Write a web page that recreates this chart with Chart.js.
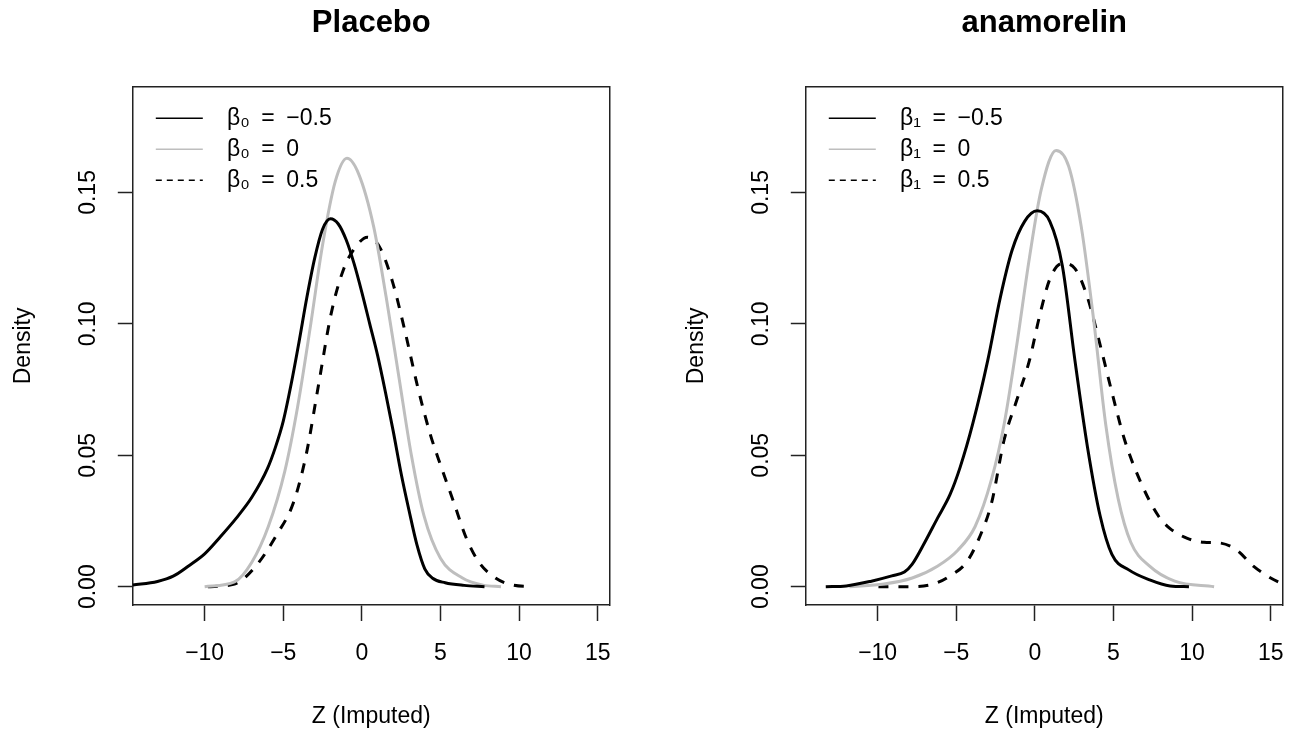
<!DOCTYPE html>
<html>
<head>
<meta charset="utf-8">
<script src="https://cdn.jsdelivr.net/npm/chart.js@4"></script>
<style>
  body { margin: 0; background: #fff; }
  #wrap { position: relative; width: 1303px; height: 737px; }
  canvas { position: absolute; top: 0; }
  #placebo { left: 0; }
  #anamorelin { left: 673px; }
</style>
</head>
<body>
<div id="wrap">
  <canvas id="placebo" width="630" height="737"></canvas>
  <canvas id="anamorelin" width="630" height="737"></canvas>
</div>
<script>
const xTicks = [-10, -5, 0, 5, 10, 15];
const xTickLabels = ['\u221210', '\u22125', '0', '5', '10', '15'];
const yTicks = [0, 0.05, 0.10, 0.15];
const yTickLabels = ['0.00', '0.05', '0.10', '0.15'];

const placeboLabels = ['\u03B2\u2080\u2002=\u2002\u22120.5', '\u03B2\u2080\u2002=\u20020', '\u03B2\u2080\u2002=\u20020.5'];
const anamorelinLabels = ['\u03B2\u2081\u2002=\u2002\u22120.5', '\u03B2\u2081\u2002=\u20020', '\u03B2\u2081\u2002=\u20020.5'];

// Placebo, beta0 = -0.5
const placeboXNeg = [-14.57, -13, -12, -11, -10, -9, -8, -7, -6, -5.5, -5, -4.5, -4, -3.5, -3, -2.5, -2, -1.5, -1, -0.5, 0, 0.5, 1, 1.5, 2, 2.5, 3, 3.5, 4, 4.5, 5.3, 6.5, 7.8];
const placeboYNeg = [0.0006, 0.002, 0.004, 0.008, 0.0125, 0.019, 0.026, 0.034, 0.045, 0.053, 0.063, 0.077, 0.093, 0.110, 0.125, 0.136, 0.140, 0.138, 0.132, 0.123, 0.112, 0.100, 0.088, 0.074, 0.059, 0.043, 0.029, 0.016, 0.0068, 0.0032, 0.0015, 0.0005, 0];
// Placebo, beta0 = 0
const placeboXZero = [-10.0, -8.1, -7.0, -5.95, -4.9, -4.1, -3.3, -2.5, -1.7, -0.95, -0.2, 0.75, 1.55, 2.35, 3.15, 3.95, 5.0, 6.4, 7.7, 8.85];
const placeboYZero = [0, 0.0018, 0.0093, 0.0229, 0.044, 0.068, 0.098, 0.130, 0.154, 0.163, 0.157, 0.137, 0.110, 0.080, 0.050, 0.027, 0.0108, 0.0033, 0.0006, 0];
// Placebo, beta0 = 0.5
const placeboXPos = [-9.8, -8.1, -6.75, -5.4, -4.35, -3.55, -2.75, -1.95, -1.15, -0.3, 0.35, 1.15, 1.95, 2.75, 3.55, 4.35, 5.05, 5.85, 6.65, 7.45, 8.5, 9.6, 10.9];
const placeboYPos = [0, 0.001, 0.0078, 0.0199, 0.032, 0.050, 0.077, 0.104, 0.121, 0.130, 0.133, 0.129, 0.116, 0.097, 0.076, 0.058, 0.0455, 0.032, 0.0184, 0.0093, 0.0033, 0.0006, 0];

// anamorelin, beta1 = -0.5
const anaXNeg = [-13.3, -12.0, -10.4, -9.1, -8.3, -7.8, -7.0, -6.2, -5.4, -4.75, -3.95, -3.0, -2.2, -1.45, -0.65, 0.15, 0.95, 1.75, 2.55, 3.35, 4.15, 4.9, 6.0, 7.3, 8.6, 9.8];
const anaYNeg = [0, 0.0003, 0.0021, 0.0041, 0.0056, 0.0086, 0.0169, 0.026, 0.035, 0.0455, 0.062, 0.086, 0.110, 0.128, 0.139, 0.143, 0.139, 0.122, 0.086, 0.053, 0.027, 0.0123, 0.0063, 0.0026, 0.0003, 0];
// anamorelin, beta1 = 0
const anaXZero = [-11.8, -9.6, -7.8, -6.2, -4.9, -3.8, -2.75, -1.95, -1.15, -0.35, 0.4, 1.35, 2.15, 2.95, 3.75, 4.5, 5.3, 6.1, 7.3, 8.9, 11.4];
const anaYZero = [0, 0.001, 0.0033, 0.0078, 0.0139, 0.0229, 0.041, 0.062, 0.092, 0.125, 0.151, 0.166, 0.160, 0.137, 0.101, 0.062, 0.0334, 0.0169, 0.0078, 0.0021, 0];
// anamorelin, beta1 = 0.5
const anaXPos = [-9.95, -8.0, -6.45, -5.4, -4.35, -3.55, -2.75, -1.95, -1.15, -0.35, 0.3, 0.95, 1.75, 2.55, 3.35, 4.15, 4.9, 5.7, 6.75, 7.85, 8.6, 9.7, 10.75, 11.8, 12.85, 13.9, 15.0, 15.8];
const anaYPos = [0, 0, 0.001, 0.0041, 0.0093, 0.0184, 0.032, 0.056, 0.071, 0.086, 0.103, 0.117, 0.123, 0.121, 0.110, 0.092, 0.074, 0.056, 0.0395, 0.027, 0.0221, 0.0184, 0.0169, 0.0166, 0.0139, 0.0078, 0.0033, 0.0009];

const FONT = 'Liberation Sans, Arial, Helvetica, sans-serif';
const INK = '#222';
const seriesStyle = [
  { color: '#000000', dash: [] },
  { color: '#bebebe', dash: [] },
  { color: '#000000', dash: [10, 10] }
];
const legendDash = [[], [], [6, 5]];

function pts(xs, ys) {
  return xs.map((x, i) => ({ x: x, y: ys[i] }));
}

// moves the legend into the top-left corner of the plot box
const legendPlace = {
  id: 'legendPlace',
  afterLayout(chart) {
    const lg = chart.legend;
    const area = chart.chartArea;
    lg.left = area.left + 15;
    lg.top = area.top + 12;
    lg.bottom = area.bottom;
    lg.right = area.right;
  }
};

function frameAxis(pos) {
  return {
    type: 'linear',
    position: pos,
    display: true,
    min: pos === 'top' ? -14.57 : -0.00697,
    max: pos === 'top' ? 15.77 : 0.1902,
    ticks: { display: false },
    grid: { display: false, drawTicks: false },
    border: { display: true, color: INK, width: 1.5 },
    afterFit: s => { if (pos === 'top') s.height = 0; else s.width = 0; }
  };
}

function makeChart(id, title, labels, series) {
  return new Chart(document.getElementById(id), {
    type: 'line',
    data: {
      datasets: series.map((s, i) => ({
        label: labels[i],
        data: s,
        borderColor: seriesStyle[i].color,
        backgroundColor: seriesStyle[i].color,
        borderDash: seriesStyle[i].dash,
        borderWidth: 3,
        pointRadius: 0,
        fill: false,
        cubicInterpolationMode: 'monotone'
      }))
    },
    options: {
      responsive: false,
      animation: false,
      events: [],
      layout: { padding: { left: 0, right: 19, top: 0, bottom: 0 } },
      plugins: {
        title: {
          display: true,
          text: title,
          fullSize: false,
          color: '#000',
          font: { family: FONT, size: 31, weight: 'bold' },
          padding: { top: 5, bottom: 44.6 }
        },
        legend: {
          position: 'chartArea',
          align: 'start',
          labels: {
            usePointStyle: true,
            pointStyle: 'line',
            pointStyleWidth: 47,
            padding: 8,
            color: '#000',
            font: { family: FONT, size: 23 },
            generateLabels: chart => Chart.defaults.plugins.legend.labels.generateLabels(chart).map(item => Object.assign(item, {
              text: '  ' + item.text,
              lineWidth: 1.5,
              lineDash: legendDash[item.datasetIndex]
            }))
          }
        },
        tooltip: { enabled: false }
      },
      scales: {
        x: {
          type: 'linear',
          position: 'bottom',
          min: -14.57,
          max: 15.77,
          afterBuildTicks: s => { s.ticks = xTicks.map(v => ({ value: v })); },
          afterFit: s => { s.height = 132; },
          grid: { display: true, drawOnChartArea: false, drawTicks: true, tickLength: 16, tickColor: INK, tickWidth: 1.5 },
          border: { display: true, color: INK, width: 1.5 },
          ticks: {
            autoSkip: false, maxRotation: 0, padding: 19, color: '#000',
            font: { family: FONT, size: 23 },
            callback: (v, i) => xTickLabels[i]
          },
          title: {
            display: true, text: 'Z (Imputed)', color: '#000',
            font: { family: FONT, size: 23 },
            padding: { top: 0, bottom: 7 }
          }
        },
        y: {
          type: 'linear',
          position: 'left',
          min: -0.00697,
          max: 0.1902,
          afterBuildTicks: s => { s.ticks = yTicks.map(v => ({ value: v })); },
          afterFit: s => { s.width = 132.8; },
          grid: { display: true, drawOnChartArea: false, drawTicks: true, tickLength: 15, tickColor: INK, tickWidth: 1.5 },
          border: { display: true, color: INK, width: 1.5 },
          ticks: {
            autoSkip: false, minRotation: 90, maxRotation: 90, crossAlign: 'center', padding: 7, color: '#000',
            font: { family: FONT, size: 23 },
            callback: (v, i) => yTickLabels[i]
          },
          title: {
            display: true, text: 'Density', color: '#000',
            font: { family: FONT, size: 23 },
            padding: { top: 10, bottom: 0 }
          }
        },
        x2: frameAxis('top'),
        y2: frameAxis('right')
      }
    },
    plugins: [legendPlace]
  });
}

makeChart('placebo', 'Placebo', placeboLabels, [
  pts(placeboXNeg, placeboYNeg),
  pts(placeboXZero, placeboYZero),
  pts(placeboXPos, placeboYPos)
]);

makeChart('anamorelin', 'anamorelin', anamorelinLabels, [
  pts(anaXNeg, anaYNeg),
  pts(anaXZero, anaYZero),
  pts(anaXPos, anaYPos)
]);
</script>
</body>
</html>
